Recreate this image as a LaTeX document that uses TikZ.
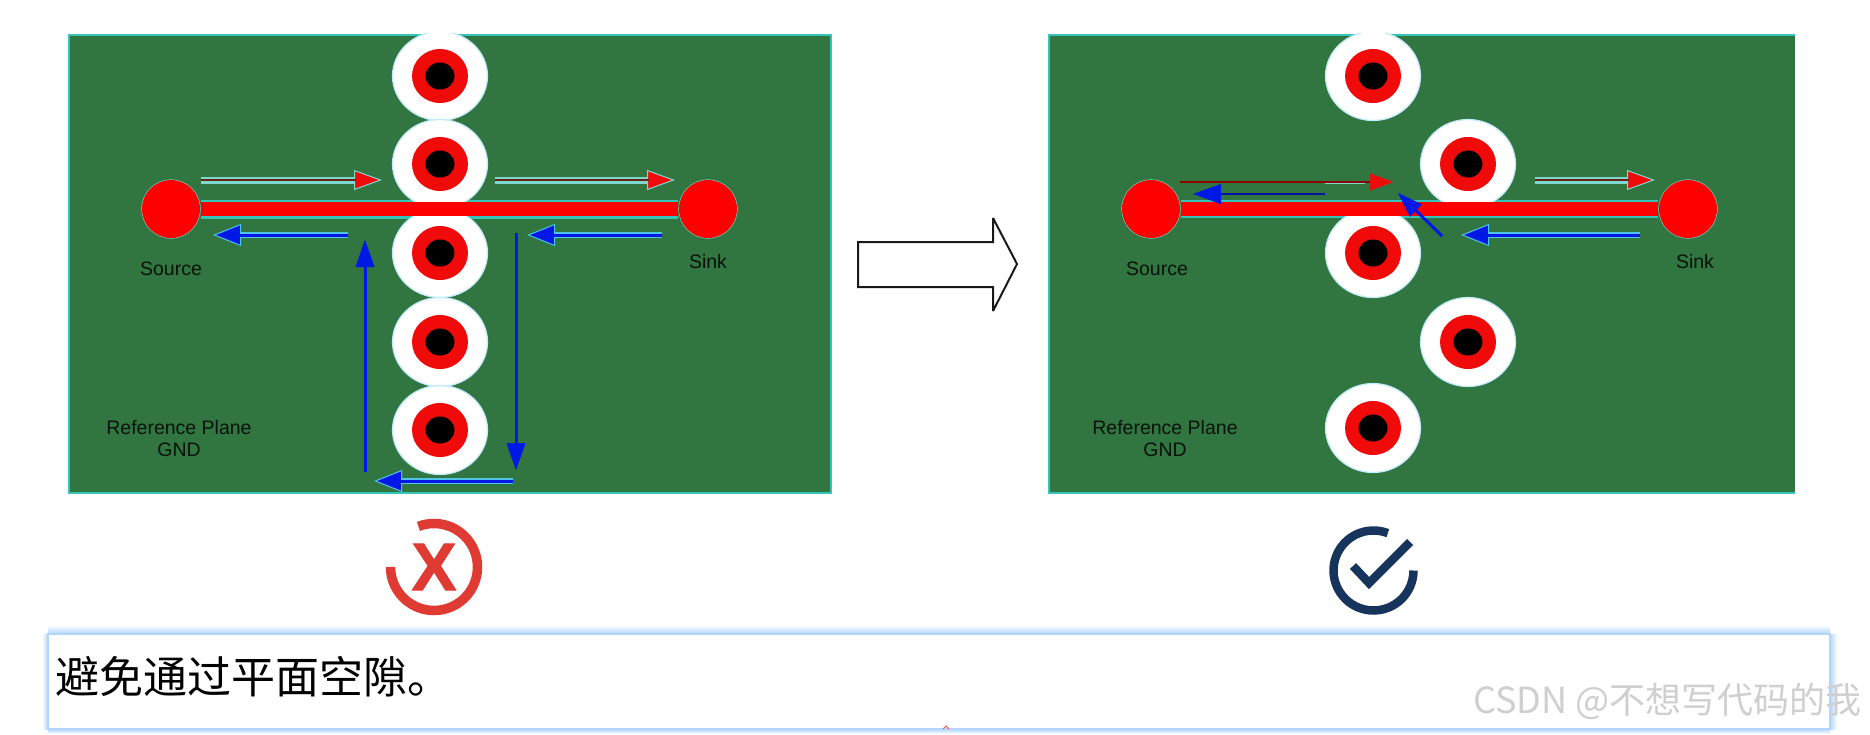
\documentclass[tikz,border=0pt]{standalone}
\usepackage{fontspec}
\setmainfont{Liberation Sans}
\newfontfamily\cjk{Noto Sans CJK SC}
\newfontfamily\xheavy[UprightFont=* Bold,FakeBold=1.5]{Liberation Sans}
\usetikzlibrary{arrows.meta,shapes.geometric}
\definecolor{plane}{HTML}{317540}
\definecolor{edgecy}{HTML}{35C4B8}
\definecolor{halo}{HTML}{B4D5FB}
\definecolor{flowblue}{HTML}{0018E6}
\definecolor{flowred}{HTML}{F00A0A}
\definecolor{haloblue}{HTML}{4FC3E8}
\definecolor{halored}{HTML}{7FD8D0}
\definecolor{crossred}{HTML}{E03B32}
\definecolor{checknavy}{HTML}{17355C}
\tikzset{
  x=1pt,y=-1pt,
  board/.style={fill=plane,draw=edgecy,line width=2pt},
  lbl/.style={font=\fontsize{19.5}{22}\selectfont,text=black!85!plane,inner sep=0pt},
  antipad/.style={ellipse,fill=white,draw=cyan!25,line width=1.2pt,minimum width=95pt,minimum height=89pt,inner sep=0pt},
  ring/.style={ellipse,fill=flowred,minimum width=56pt,minimum height=54pt,inner sep=0pt},
  drill/.style={ellipse,fill=black,minimum width=29pt,minimum height=27pt,inner sep=0pt},
  pad/.style={circle,fill=red,draw=edgecy!70!white,line width=1.2pt,minimum size=58pt,inner sep=0pt},
  traceedge/.style={draw=edgecy,line width=19pt},
  tracecore/.style={draw=red,line width=14pt},
  bluehalo/.style={draw=haloblue,line width=6pt,-{Triangle[line width=1pt,length=28pt,width=22pt,fill=flowblue]}},
  bluecore/.style={draw=flowblue,line width=3pt},
  bluevert/.style={draw=flowblue,line width=3pt,-{Triangle[line width=.5pt,length=27pt,width=19pt,fill=flowblue]}},
  bluethin/.style={draw=flowblue!70!black,line width=1.8pt,-{Triangle[line width=.5pt,length=28pt,width=20pt,fill=flowblue,color=flowblue]}},
  bluediag/.style={draw=flowblue,line width=3pt,-{Triangle[line width=.5pt,length=25pt,width=17pt,fill=flowblue]}},
  redhalo/.style={draw=halored,line width=7pt,-{Triangle[line width=1pt,length=28pt,width=20pt,fill=flowred]}},
  redcore/.style={draw=black!50!red!70!plane,line width=2.6pt},
  redthin/.style={draw=black!45!red,line width=1.4pt,-{Triangle[line width=.5pt,length=23pt,width=17pt,fill=flowred,color=flowred]}},
}
\newcommand{\via}[3]{%
  \node[antipad] (#1o) at (#2,#3) {};
  \node[ring] (#1r) at (#2,#3) {};
  \node[drill] (#1d) at (#2,#3) {};}
\begin{document}
\begin{tikzpicture}
\useasboundingbox (0,0) rectangle (1870,734);
\fill[white] (0,0) rectangle (1870,734);
% left board
\draw[board] (69,35) rectangle (831,493);
\node[pad] (ls) at (171,209) {};
\node[pad] (lk) at (708,209) {};
\draw[traceedge] (ls) -- (lk);
\via{la}{440}{76}\via{lb}{440}{164}\via{lc}{440}{253}\via{ld}{440}{342}\via{le}{440}{430}
\fill[white] (428,28) rectangle (452,38);
\node[pad,draw=none] at (171,209) {};
\node[pad,draw=none] at (708,209) {};
\draw[tracecore] (ls) -- (lk);
\coordinate (r1a) at (201,180); \coordinate (r1b) at (382,180);
\coordinate (r2a) at (495,180); \coordinate (r2b) at (675,180);
\draw[redhalo] (r1a) -- (r1b); \draw[redcore] (r1a) -- ([xshift=-26pt]r1b);
\draw[redhalo] (r2a) -- (r2b); \draw[redcore] (r2a) -- ([xshift=-26pt]r2b);
\coordinate (b1a) at (348,235); \coordinate (b1b) at (213,235);
\coordinate (b2a) at (662,235); \coordinate (b2b) at (527,235);
\coordinate (b3a) at (365,472); \coordinate (b3b) at (365,240);
\coordinate (b4a) at (516,233); \coordinate (b4b) at (516,470);
\coordinate (b5a) at (513,481); \coordinate (b5b) at (374,481);
\foreach \p/\q in {b1a/b1b,b2a/b2b,b5a/b5b}{
  \draw[bluehalo] (\p) -- (\q);
  \draw[bluecore] (\p) -- ([xshift=26pt]\q);}
\draw[bluevert] (b3a) -- (b3b);
\draw[bluevert] (b4a) -- (b4b);
\node[lbl] (t1) at (171,269) {Source};
\node[lbl] (t2) at (708,262) {Sink};
\node[lbl] (t3) at (179,428) {Reference Plane};
\node[lbl] (t4) at (179,450) {GND};
% block arrow
\draw[black!90,line width=2pt,fill=white,miter limit=4] (858,242) -- (993,242) -- (993,218) -- (1017,264) -- (993,311) -- (993,287) -- (858,287) -- cycle;
% right board
\fill[plane] (1049,35) rectangle (1795,493);
\draw[edgecy,line width=2pt] (1795,35) -- (1049,35) -- (1049,493) -- (1795,493);
\node[pad] (rs) at (1151,209) {};
\node[pad] (rk) at (1688,209) {};
\draw[traceedge,line width=18pt] (rs) -- (rk);
\via{ra}{1373}{76}\via{rb}{1468}{164}\via{rc}{1373}{253}\via{rd}{1468}{342}\via{re}{1373}{428}
\fill[white] (1361,28) rectangle (1385,38);
\node[pad,draw=none] at (1151,209) {};
\node[pad,draw=none] at (1688,209) {};
\draw[tracecore] (rs) -- (rk);
\coordinate (r3a) at (1180,182); \coordinate (r3b) at (1393,182);
\coordinate (r3c) at (1325,183); \coordinate (r3d) at (1365,183);
\draw[halored,line width=2.5pt] (r3c) -- (r3d);
\draw[redthin] (r3a) -- (r3b);
\coordinate (b6a) at (1325,194); \coordinate (b6b) at (1193,194);
\draw[bluethin] (b6a) -- (b6b);
\coordinate (b7a) at (1442,236); \coordinate (b7b) at (1398,193);
\draw[bluediag] (b7a) -- (b7b);
\coordinate (r4a) at (1535,180); \coordinate (r4b) at (1655,180);
\draw[redhalo] (r4a) -- (r4b); \draw[redcore] (r4a) -- ([xshift=-26pt]r4b);
\coordinate (b8a) at (1640,235); \coordinate (b8b) at (1461,235);
\draw[bluehalo] (b8a) -- (b8b); \draw[bluecore] (b8a) -- ([xshift=26pt]b8b);
\node[lbl] (t5) at (1157,269) {Source};
\node[lbl] (t6) at (1695,262) {Sink};
\node[lbl] (t7) at (1165,428) {Reference Plane};
\node[lbl] (t8) at (1165,450) {GND};
% icons
\begin{scope}[shift={(434,567)},x=1pt,y=1pt]
  \draw[crossred,line width=9.5pt] (111:43.5pt) arc[start angle=111,end angle=-180,radius=43.5pt];
\end{scope}
\node[font=\xheavy\fontsize{67}{67}\selectfont,text=crossred,inner sep=0pt] (xm) at (434,567) {X};
\begin{scope}[shift={(1373.5,570.5)},x=1pt,y=1pt]
  \draw[checknavy,line width=8.5pt] (69:40pt) arc[start angle=69,end angle=360,radius=40pt];
\end{scope}
\draw[checknavy,line width=8.5pt] (1353,566) -- (1369,583) -- (1410,542);
% box
\shade[top color=white,bottom color=halo] (48,625) rectangle (1830,634);
\shade[top color=halo,bottom color=white] (48,729) rectangle (1830,734);
\shade[left color=halo,right color=white] (1830,634) rectangle (1837,729);
\shade[left color=white,right color=halo] (42,634) rectangle (48,729);
\fill[white] (48,634) rectangle (1830,729);
\draw[halo,line width=1.5pt] (48,634) rectangle (1830,729);
\node[anchor=west,inner sep=0pt,font=\cjk\fontsize{44}{46}\selectfont] (cap) at (55,677) {避免通过平面空隙。};
\node[anchor=west,inner sep=0pt,text=black!19,font=\cjk\fontsize{36}{38}\selectfont] (wm) at (1473,701) {CSDN @不想写代码的我};
\coordinate (m1) at (943,729); \coordinate (m2) at (946,726); \coordinate (m3) at (949,729);
\draw[red!70,line width=.8pt] (m1) -- (m2) -- (m3);
\end{tikzpicture}
\end{document}
